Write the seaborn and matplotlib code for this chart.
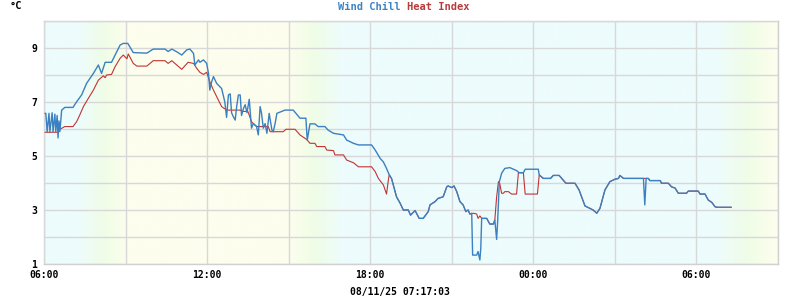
import numpy as np
import pandas as pd
import matplotlib
matplotlib.use("Agg")
import matplotlib.pyplot as plt
import matplotlib.dates as mdates
from matplotlib.colors import LinearSegmentedColormap
import seaborn as sns

# ---- data (minutes after 2025-08-10 06:00, °C) ----
start_time = "2025-08-10 06:00"
stamp_text = "08/11/25 07:17:03"

wc_min = [2, 4, 7, 11, 13, 18, 20, 24, 26, 29, 31, 33, 35, 39, 46, 64, 72, 83, 94, 109,
          120, 127, 135, 149, 157, 168, 175, 185, 197, 227, 241, 267, 274, 282, 293, 304,
          315, 322, 330, 333, 341, 344, 352, 359, 363, 366, 370, 374, 381, 392, 399, 403,
          407, 411, 414, 418, 422, 425, 429, 433, 436, 440, 444, 448, 453, 458, 462, 469,
          473, 477, 480, 484, 488, 492, 497, 503, 506, 510, 514, 532, 550, 565, 578, 581,
          587, 598, 605, 620, 627, 639, 661, 668, 683, 694, 723, 731, 742, 749, 756, 762,
          767, 778, 786, 793, 804, 809, 819, 828, 837, 848, 852, 863, 870, 881, 889, 892,
          900, 905, 911, 918, 925, 931, 936, 940, 944, 946, 955, 958, 962, 964, 966, 977,
          984, 992, 995, 998, 999, 1001, 1005, 1010, 1017, 1028, 1043, 1049, 1058, 1062,
          1091, 1093, 1102, 1118, 1124, 1137, 1152, 1172, 1181, 1194, 1205, 1212, 1220,
          1227, 1238, 1249, 1260, 1268, 1271, 1279, 1323, 1326, 1329, 1334, 1337, 1360,
          1363, 1378, 1385, 1393, 1400, 1418, 1422, 1444, 1448, 1459, 1466, 1474, 1481,
          1486, 1517]
wc_val = [6.58, 6.58, 5.9, 6.58, 5.9, 6.6, 5.9, 6.55, 5.9, 6.5, 5.67, 6.3, 5.9, 6.70, 6.80,
          6.80, 7.01, 7.26, 7.69, 8.06, 8.37, 8.06, 8.47, 8.47, 8.74, 9.11, 9.17, 9.17, 8.83,
          8.81, 8.96, 8.96, 8.87, 8.96, 8.86, 8.74, 8.93, 8.96, 8.8, 8.37, 8.56, 8.47, 8.56,
          8.43, 8.06, 7.44, 7.75, 7.94, 7.69, 7.5, 7.01, 6.43, 7.26, 7.3, 6.6, 6.45, 6.33,
          6.8, 7.26, 7.26, 6.5, 6.75, 6.9, 6.6, 7.1, 6.03, 6.2, 6.1, 5.78, 6.83, 6.6, 6.03,
          6.2, 5.84, 6.58, 5.96, 5.9, 6.2, 6.58, 6.70, 6.70, 6.40, 6.40, 5.59, 6.19, 6.19,
          6.09, 6.09, 5.96, 5.84, 5.78, 5.59, 5.47, 5.41, 5.41, 5.22, 4.91, 4.78, 4.54, 4.30,
          4.17, 3.49, 3.25, 3.0, 3.0, 2.81, 2.98, 2.69, 2.69, 2.94, 3.19, 3.31, 3.43, 3.49,
          3.86, 3.89, 3.83, 3.89, 3.68, 3.31, 3.19, 2.94, 3.0, 2.85, 2.88, 1.33, 1.33, 1.46,
          1.15, 1.58, 2.69, 2.69, 2.48, 2.48, 2.63, 2.07, 1.91, 2.5, 4.05, 4.36, 4.54, 4.57,
          4.46, 4.38, 4.38, 4.51, 4.51, 4.30, 4.17, 4.17, 4.28, 4.28, 3.99, 3.99, 3.74, 3.15,
          3.06, 3.0, 2.88, 3.06, 3.74, 4.05, 4.14, 4.17, 4.28, 4.17, 4.17, 3.19, 4.17, 4.17,
          4.09, 4.09, 3.99, 3.99, 3.86, 3.81, 3.62, 3.62, 3.70, 3.70, 3.59, 3.59, 3.37, 3.28,
          3.12, 3.10, 3.10]

hi_min = [2, 31, 35, 46, 64, 72, 79, 87, 98, 109, 120, 131, 135, 138, 149, 157, 168, 175,
          183, 186, 197, 205, 227, 241, 267, 274, 282, 293, 304, 318, 330, 337, 344, 352,
          359, 366, 374, 381, 392, 403, 433, 440, 450, 458, 469, 495, 499, 528, 534, 554,
          565, 580, 587, 598, 602, 620, 624, 639, 642, 661, 668, 683, 694, 723, 731, 738,
          749, 756, 760, 762, 767, 778, 786, 793, 804, 809, 819, 828, 837, 848, 852, 863,
          870, 881, 889, 892, 900, 905, 911, 918, 925, 931, 936, 940, 948, 955, 958, 962,
          966, 977, 984, 992, 995, 999, 1003, 1005, 1010, 1014, 1017, 1025, 1032, 1043,
          1047, 1058, 1062, 1089, 1093, 1102, 1118, 1124, 1137, 1152, 1172, 1181, 1194,
          1205, 1212, 1220, 1227, 1238, 1249, 1260, 1268, 1271, 1279, 1323, 1334, 1337,
          1360, 1363, 1378, 1385, 1393, 1400, 1418, 1422, 1444, 1448, 1459, 1466, 1474,
          1481, 1486, 1517]
hi_val = [5.88, 5.88, 5.99, 6.09, 6.09, 6.27, 6.52, 6.83, 7.14, 7.44, 7.81, 7.97, 7.9, 8.0,
          8.02, 8.31, 8.62, 8.74, 8.6, 8.78, 8.43, 8.33, 8.33, 8.53, 8.53, 8.43, 8.53, 8.37,
          8.21, 8.47, 8.43, 8.25, 8.1, 8.02, 8.1, 7.75, 7.44, 7.20, 6.83, 6.70, 6.70, 6.65,
          6.65, 6.27, 6.09, 6.09, 5.90, 5.90, 5.99, 5.99, 5.78, 5.61, 5.47, 5.47, 5.35, 5.35,
          5.22, 5.2, 5.04, 5.04, 4.85, 4.75, 4.60, 4.60, 4.42, 4.17, 3.93, 3.59, 4.11, 4.30,
          4.17, 3.49, 3.25, 3.0, 3.0, 2.81, 2.98, 2.69, 2.69, 2.94, 3.19, 3.31, 3.43, 3.49,
          3.86, 3.89, 3.83, 3.89, 3.68, 3.31, 3.19, 2.94, 3.0, 2.85, 2.88, 2.85, 2.69, 2.78,
          2.69, 2.69, 2.48, 2.48, 2.63, 3.49, 4.05, 4.05, 3.62, 3.62, 3.68, 3.68, 3.59, 3.59,
          4.38, 4.38, 3.59, 3.59, 4.30, 4.17, 4.17, 4.28, 4.28, 3.99, 3.99, 3.74, 3.15, 3.06,
          3.0, 2.88, 3.06, 3.74, 4.05, 4.14, 4.17, 4.28, 4.17, 4.17, 4.17, 4.09, 4.09, 3.99,
          3.99, 3.86, 3.81, 3.62, 3.62, 3.70, 3.70, 3.59, 3.59, 3.37, 3.28, 3.12, 3.10, 3.10]

y_ticks = [1, 3, 5, 7, 9]
x_tick_labels = ["06:00", "12:00", "18:00", "00:00", "06:00"]
span_hours = 27

# ---- style ----
blue = "#3b80c0"
red = "#c03434"
sns.set_theme(style="white")
plt.rcParams['font.family'] = ['DejaVu Sans Mono', 'DejaVu Sans']

t0 = pd.Timestamp(start_time)
wc = pd.DataFrame({"time": t0 + pd.to_timedelta(wc_min, unit="min"), "val": wc_val})
hi = pd.DataFrame({"time": t0 + pd.to_timedelta(hi_min, unit="min"), "val": hi_val})

fig = plt.figure(figsize=(8, 3), dpi=100)
ax = fig.add_axes([44 / 800, 36 / 300, 734 / 800, 243 / 300])

x0 = mdates.date2num(t0)
x1 = mdates.date2num(t0 + pd.Timedelta(hours=span_hours))

# day / night background gradient
night = "#edfcfd"
day = "#fdfeee"
mid = "#f0fde6"
cmap = LinearSegmentedColormap.from_list("daynight", [
    (0.0, night), (1.2 / 27, night), (2.2 / 27, mid), (3.0 / 27, day),
    (9.0 / 27, day), (9.9 / 27, mid), (11.0 / 27, night),
    (24.8 / 27, night), (26.0 / 27, mid), (1.0, day)])
ax.imshow(np.linspace(0, 1, 800)[None, :], cmap=cmap, aspect="auto",
          extent=[x0, x1, 1, 10], zorder=0, interpolation="bilinear")

sns.lineplot(data=hi, x="time", y="val", color=red, lw=0.8, ax=ax,
             estimator=None, sort=False, zorder=3)
sns.lineplot(data=wc, x="time", y="val", color=blue, lw=1.0, ax=ax,
             estimator=None, sort=False, zorder=4)

ax.set_xlim(x0, x1)
ax.set_ylim(1, 10)

# grid
xt = [x0 + h / 24 for h in range(0, span_hours + 1, 3)]
ax.set_xticks(xt)
lbls = []
k = 0
for i in range(len(xt)):
    if i % 2 == 0 and k < len(x_tick_labels):
        lbls.append(x_tick_labels[k]); k += 1
    else:
        lbls.append("")
ax.set_xticklabels(lbls)
ax.set_yticks(range(1, 11))
ax.set_yticklabels([str(v) if v in y_ticks else "" for v in range(1, 11)])
ax.grid(True, color="#d8d8d8", lw=1.0, zorder=1)
ax.set_axisbelow(False)
for gl in ax.get_xgridlines() + ax.get_ygridlines():
    gl.set_zorder(1)
ax.tick_params(axis="both", length=0, labelsize=7, colors="black")
ax.tick_params(axis="x", pad=4)
ax.tick_params(axis="y", pad=5)
for lab in ax.get_xticklabels() + ax.get_yticklabels():
    lab.set_fontweight("bold")
for s in ax.spines.values():
    s.set_color("#d0d0d0")
    s.set_linewidth(1.0)
ax.set_xlabel("")
ax.set_ylabel("")

# titles and annotations
fig.text(401 / 800, 1 - 7 / 300, "Wind Chill", color="#3d82c4", ha="right", va="center",
         fontsize=7.5, fontweight="bold")
fig.text(407 / 800, 1 - 7 / 300, "Heat Index", color="#b83a3a", ha="left", va="center",
         fontsize=7.5, fontweight="bold")
fig.text(10 / 800, 1 - 6 / 300, "°C", color="black", ha="left", va="center",
         fontsize=7.5, fontweight="bold")
fig.text(400 / 800, 1 - 292 / 300, stamp_text, color="black", ha="center", va="center",
         fontsize=7, fontweight="bold")

fig.savefig("out.png", dpi=100, facecolor="white")
